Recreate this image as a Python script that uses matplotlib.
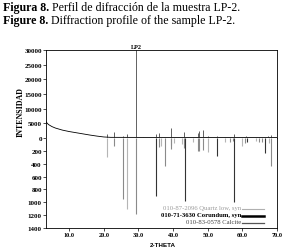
import matplotlib
matplotlib.use("Agg")
import matplotlib.pyplot as plt

# ---------------- data ----------------
bg_theta = [3.3, 4.0, 5.0, 6.0, 8.0, 10.0, 12.0, 14.0, 16.0, 18.0, 20.0, 22.0, 30.0, 50.0, 70.0]
bg_int = [5500, 4600, 3900, 3400, 2700, 2200, 1800, 1400, 1000, 650, 350, 220, 200, 180, 150]

peak_theta = [20.86, 23.02, 25.58, 26.64, 29.41, 31.42, 35.15, 35.97, 39.42, 43.16,
              47.12, 47.52, 48.51, 50.14, 52.6, 57.45, 61.0, 64.7, 67.3, 68.3]
peak_int = [1200, 1900, 800, 1500, 30000, 500, 1500, 1700, 3300, 2000,
            1800, 2500, 2600, 700, 800, 1500, 800, 500, 700, 900]

quartz_theta = [20.86, 26.64, 36.54, 39.46, 40.29, 42.45, 45.79, 50.14, 54.87, 59.96, 64.03, 67.74]
quartz_int = [290, 1100, 120, 110, 70, 90, 60, 220, 60, 130, 40, 80]

corundum_theta = [35.15, 43.36, 52.55, 57.50, 61.30, 66.52]
corundum_int = [900, 975, 280, 1000, 60, 240]

calcite_theta = [23.02, 25.6, 29.41, 35.97, 37.8, 39.40, 43.16, 47.11, 47.52, 48.51,
                 56.57, 57.42, 60.68, 64.67, 65.6, 68.4]
calcite_int = [120, 950, 1180, 140, 430, 170, 150, 200, 200, 190,
               60, 50, 70, 60, 60, 430]

upper_ticks = [0, 5000, 10000, 15000, 20000, 25000, 30000]
lower_ticks = [200, 400, 600, 800, 1000, 1200, 1400]
x_ticks = [10, 20, 30, 40, 50, 60, 70]

legend_labels = ["010-87-2096 Quartz low, syn", "010-71-3630 Corundum, syn", "010-83-0578 Calcite"]

# ---------------- figure ----------------
W, H = 289, 253
fig = plt.figure(figsize=(W / 100, H / 100), dpi=100)
serif = "Liberation Serif"

def fx(px):
    return px / W

def fy(py):
    return 1 - py / H

left, right = fx(46), fx(277)
ax1 = fig.add_axes([left, fy(139), right - left, fy(51) - fy(139)])
ax2 = fig.add_axes([left, fy(229), right - left, fy(139) - fy(229)], sharex=ax1)

xmin, xmax = 3.3, 70.0

# upper panel
ax1.plot(bg_theta, bg_int, color="black", lw=0.6)
ax1.vlines(peak_theta, 0, peak_int, color="#222222", lw=0.5)
ax1.axhline(0, color="black", lw=0.6)
ax1.set_ylim(0, 30000)
ax1.set_xlim(xmin, xmax)
ax1.spines["bottom"].set_visible(False)
ax1.tick_params(axis="x", bottom=False, labelbottom=False)
ax1.set_yticks(upper_ticks)
ax1.set_yticklabels([str(v) for v in upper_ticks])
ax1.text(29.41, 30300, "LP2", ha="center", va="bottom", fontsize=4.5,
         fontweight="bold", family=serif)

# lower panel
ax2.vlines(quartz_theta, 0, quartz_int, color="#b5b5b5", lw=0.8)
ax2.vlines(calcite_theta, 0, calcite_int, color="#8a8a8a", lw=0.8)
ax2.vlines(corundum_theta, 0, corundum_int, color="#333333", lw=0.8)
ax2.set_ylim(1400, 0)
ax2.spines["top"].set_visible(False)
ax2.set_yticks(lower_ticks)
ax2.set_yticklabels([str(v) for v in lower_ticks])
ax2.set_xticks(x_ticks)
ax2.set_xticklabels([f"{v:.1f}" for v in x_ticks])

for ax in (ax1, ax2):
    for s in ax.spines.values():
        s.set_linewidth(0.6)
    ax.tick_params(axis="both", direction="out", length=2, width=0.5, pad=1)
    for lab in ax.get_yticklabels():
        lab.set_fontsize(5)
        lab.set_fontweight("bold")
        lab.set_family(serif)
for lab in ax2.get_xticklabels():
    lab.set_fontsize(4.5)
    lab.set_fontweight("bold")
    lab.set_family(serif)

fig.text(fx(21), fy(112), "INTENSIDAD", rotation=90, ha="center", va="center",
         fontsize=5.8, fontweight="bold", family=serif)
fig.text(fx(163), fy(246), "2-THETA", ha="center", va="center",
         fontsize=4.5, fontweight="bold", family="Liberation Sans")

# legend
leg_colors = ["#b0b0b0", "#000000", "#555555"]
leg_text_colors = ["#9a9a9a", "#000000", "#444444"]
leg_weights = ["normal", "bold", "normal"]
leg_lw = [0.8, 1.8, 0.9]
leg_y = [209, 216, 223]
for lab, c, tc, w, lw, y in zip(legend_labels, leg_colors, leg_text_colors, leg_weights, leg_lw, leg_y):
    fig.text(fx(241), fy(y), lab, ha="right", va="center", fontsize=4.8,
             color=tc, fontweight=w, family=serif)
    fig.add_artist(plt.Line2D([fx(242), fx(264)], [fy(y + 0.5), fy(y + 0.5)],
                              color=c, lw=lw, transform=fig.transFigure))

# caption
renderer = fig.canvas.get_renderer()
for y, bold, rest in [(8, "Figura 8.", " Perfil de difracción de la muestra LP-2."),
                      (21, "Figure 8.", " Diffraction profile of the sample LP-2.")]:
    t = fig.text(fx(3), fy(y), bold, ha="left", va="center", fontsize=8.6,
                 fontweight="bold", family=serif)
    bb = t.get_window_extent(renderer)
    fig.text(bb.x1 / fig.bbox.width, fy(y), rest, ha="left", va="center",
             fontsize=8.6, family=serif)

fig.savefig("out.png", dpi=100)
